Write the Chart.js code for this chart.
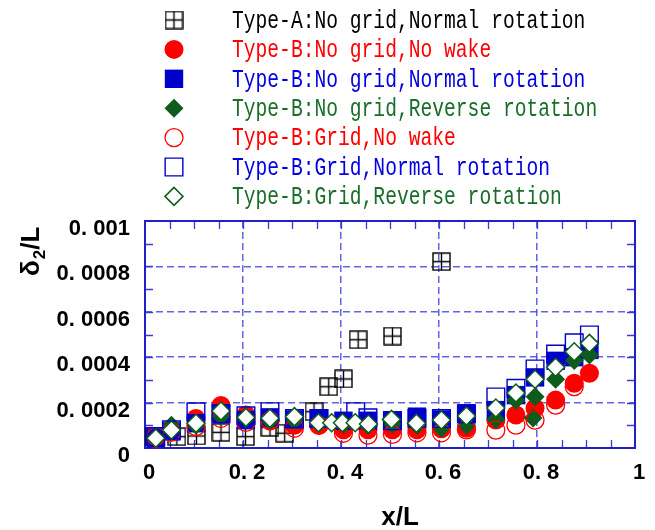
<!DOCTYPE html>
<html>
<head>
<meta charset="utf-8">
<script src="https://cdn.jsdelivr.net/npm/chart.js@4/dist/chart.umd.min.js"></script>
<style>
  html, body { margin: 0; padding: 0; background: #fff; }
  canvas { display: block; }
</style>
</head>
<body>
<canvas id="chart" width="655" height="530"></canvas>
<script>
// --- Data ---

const xTickLabels = ["0", "0. 2", "0. 4", "0. 6", "0. 8", "1"];
const yTickLabels = ["0", "0. 0002", "0. 0004", "0. 0006", "0. 0008", "0. 001"];

const seriesLabels = [
    "Type-A:No grid,Normal rotation",
    "Type-B:No grid,No wake",
    "Type-B:No grid,Normal rotation",
    "Type-B:No grid,Reverse rotation",
    "Type-B:Grid,No wake",
    "Type-B:Grid,Normal rotation",
    "Type-B:Grid,Reverse rotation",
];

// Type-A, no grid, normal rotation
const typeA_x = [0.02, 0.065, 0.105, 0.155, 0.205, 0.255, 0.285, 0.345, 0.375, 0.405, 0.435, 0.505, 0.605];
const typeA_y = [0.000050, 0.000050, 0.000053, 0.000069, 0.000050, 0.000091, 0.000065, 0.000160, 0.000270, 0.000304, 0.000477, 0.000493, 0.000821];

// Type-B, no grid, no wake
const noGridNoWake_x = [0.022, 0.054, 0.104, 0.155, 0.206, 0.255, 0.305, 0.355, 0.405, 0.455, 0.505, 0.555, 0.605, 0.656, 0.716, 0.757, 0.796, 0.838, 0.876, 0.907];
const noGridNoWake_y = [0.000040, 0.000080, 0.000130, 0.000187, 0.000145, 0.000120, 0.000100, 0.000100, 0.000080, 0.000080, 0.000080, 0.000080, 0.000085, 0.000087, 0.000123, 0.000145, 0.000175, 0.000211, 0.000285, 0.000329];

// Type-B, no grid, normal rotation
const noGridNormal_x = [0.022, 0.054, 0.104, 0.155, 0.206, 0.255, 0.305, 0.355, 0.405, 0.455, 0.505, 0.555, 0.605, 0.656, 0.716, 0.757, 0.796, 0.838, 0.876, 0.907];
const noGridNormal_y = [0.000043, 0.000073, 0.000109, 0.000153, 0.000123, 0.000135, 0.000126, 0.000131, 0.000120, 0.000120, 0.000122, 0.000138, 0.000126, 0.000153, 0.000167, 0.000233, 0.000311, 0.000384, 0.000400, 0.000432];

// Type-B, no grid, reverse rotation
const noGridReverse_x = [0.022, 0.054, 0.104, 0.155, 0.206, 0.255, 0.305, 0.355, 0.405, 0.455, 0.505, 0.555, 0.605, 0.656, 0.716, 0.757, 0.792, 0.796, 0.838, 0.876, 0.907];
const noGridReverse_y = [0.000042, 0.000100, 0.000100, 0.000140, 0.000130, 0.000120, 0.000120, 0.000110, 0.000105, 0.000100, 0.000105, 0.000100, 0.000087, 0.000100, 0.000126, 0.000210, 0.000132, 0.000226, 0.000303, 0.000385, 0.000410];

// Type-B, grid, no wake
const gridNoWake_x = [0.022, 0.054, 0.104, 0.155, 0.206, 0.255, 0.305, 0.355, 0.405, 0.455, 0.505, 0.555, 0.605, 0.656, 0.716, 0.757, 0.796, 0.838, 0.876];
const gridNoWake_y = [0.000050, 0.000070, 0.000094, 0.000130, 0.000113, 0.000120, 0.000087, 0.000100, 0.000065, 0.000057, 0.000060, 0.000067, 0.000067, 0.000080, 0.000079, 0.000101, 0.000123, 0.000189, 0.000270];

// Type-B, grid, normal rotation
const gridNormal_x = [0.022, 0.054, 0.104, 0.155, 0.206, 0.255, 0.305, 0.355, 0.430, 0.455, 0.505, 0.555, 0.605, 0.656, 0.716, 0.757, 0.796, 0.838, 0.876, 0.907];
const gridNormal_y = [0.000050, 0.000080, 0.000159, 0.000150, 0.000142, 0.000160, 0.000130, 0.000130, 0.000160, 0.000133, 0.000120, 0.000130, 0.000130, 0.000150, 0.000225, 0.000263, 0.000348, 0.000414, 0.000463, 0.000498];

// Type-B, grid, reverse rotation
const gridReverse_x = [0.022, 0.054, 0.104, 0.155, 0.206, 0.255, 0.305, 0.354, 0.381, 0.403, 0.429, 0.456, 0.503, 0.554, 0.605, 0.656, 0.716, 0.757, 0.796, 0.838, 0.876, 0.907];
const gridReverse_y = [0.000043, 0.000079, 0.000109, 0.000163, 0.000135, 0.000131, 0.000138, 0.000111, 0.000111, 0.000111, 0.000111, 0.000106, 0.000126, 0.000109, 0.000123, 0.000141, 0.000176, 0.000242, 0.000303, 0.000356, 0.000424, 0.000461];

// minor tick values drawn inward on the frame
const xMinorTicks = [0.05, 0.1, 0.15, 0.2, 0.25, 0.3, 0.35, 0.4, 0.45, 0.5, 0.55, 0.6, 0.65, 0.7, 0.75, 0.8, 0.85, 0.9, 0.95];
const yMinorTicks = [0.0001, 0.0002, 0.0003, 0.0004, 0.0005, 0.0006, 0.0007, 0.0008, 0.0009];


// --- Styles ---

const RED = "#ff0000";
const BLUE = "#0000cc";
const GREEN = "#0d5c1c";
const TEXT_COLORS = ["#000000", "#ff0000", "#0000e0", "#1a6e2a", "#ff0000", "#0000e0", "#1a6e2a"];
const FRAME_COLOR = "#1f1fcc";
const TICK_COLOR = "#3a3ad8";
const GRID_COLOR = "rgba(40, 40, 215, 0.72)";
const TICK_FONT = { family: "'Liberation Sans', Arial, sans-serif", weight: "bold", size: 22 };

// Type-A marker: square split into four
function gridSquareMarker() {
    const c = document.createElement("canvas");
    c.width = 19;
    c.height = 19;
    const g = c.getContext("2d");
    g.strokeStyle = "#000";
    g.lineWidth = 1.4;
    g.strokeRect(1, 1, 17, 17);
    g.beginPath();
    g.moveTo(9.5, 1); g.lineTo(9.5, 18);
    g.moveTo(1, 9.5); g.lineTo(18, 9.5);
    g.stroke();
    return c;
}

function points(xs, ys) {
    return xs.map((x, i) => ({ x, y: ys[i] }));
}

function series(i, xs, ys, style) {
    return Object.assign({
        label: seriesLabels[i],
        data: points(xs, ys),
        order: 7 - i,   // first series at the bottom, last on top
        clip: false,
    }, style);
}

const datasets = [
    series(0, typeA_x, typeA_y, {
        pointStyle: gridSquareMarker(), pointRadius: 9.5,
        backgroundColor: "rgba(0,0,0,0)", borderColor: "#000", borderWidth: 1.4,
    }),
    series(1, noGridNoWake_x, noGridNoWake_y, {
        pointStyle: "circle", pointRadius: 9.5,
        backgroundColor: RED, borderColor: RED, borderWidth: 0,
    }),
    series(2, noGridNormal_x, noGridNormal_y, {
        pointStyle: "rect", pointRadius: 13,
        backgroundColor: BLUE, borderColor: BLUE, borderWidth: 0,
    }),
    series(3, noGridReverse_x, noGridReverse_y, {
        pointStyle: "rectRot", pointRadius: 9.5,
        backgroundColor: GREEN, borderColor: GREEN, borderWidth: 0,
    }),
    series(4, gridNoWake_x, gridNoWake_y, {
        pointStyle: "circle", pointRadius: 9,
        backgroundColor: "rgba(0,0,0,0)", borderColor: RED, borderWidth: 1.3,
    }),
    series(5, gridNormal_x, gridNormal_y, {
        pointStyle: "rect", pointRadius: 12.5,
        backgroundColor: "rgba(0,0,0,0)", borderColor: BLUE, borderWidth: 1.4,
    }),
    series(6, gridReverse_x, gridReverse_y, {
        pointStyle: "rectRot", pointRadius: 9,
        backgroundColor: "#ffffff", borderColor: GREEN, borderWidth: 1.5,
    }),
];
datasets.forEach(d => { d.pointHoverRadius = d.pointRadius; });


// --- Plugins: frame, inner ticks, legend, axis titles ---

const frameAndTicks = {
    id: "frameAndTicks",
    beforeDatasetsDraw(chart) {
        const { ctx, chartArea: a, scales: { x, y } } = chart;
        ctx.save();
        ctx.strokeStyle = TICK_COLOR;
        ctx.lineWidth = 1.3;
        ctx.beginPath();
        xMinorTicks.forEach(v => {
            const px = Math.round(x.getPixelForValue(v)) + 0.5;
            ctx.moveTo(px, a.bottom); ctx.lineTo(px, a.bottom - 8);
            ctx.moveTo(px, a.top); ctx.lineTo(px, a.top + 8);
        });
        yMinorTicks.forEach(v => {
            const py = Math.round(y.getPixelForValue(v)) + 0.5;
            ctx.moveTo(a.left, py); ctx.lineTo(a.left + 8, py);
            ctx.moveTo(a.right, py); ctx.lineTo(a.right - 8, py);
        });
        ctx.stroke();
        ctx.strokeStyle = FRAME_COLOR;
        ctx.lineWidth = 2;
        ctx.strokeRect(a.left, a.top, a.right - a.left, a.bottom - a.top);
        ctx.restore();
    },
};

const LEGEND_MARK_X = 174;
const LEGEND_TEXT_X = 232;
const LEGEND_TOP = 20;
const LEGEND_ROW = 29.4;

const legendAndTitles = {
    id: "legendAndTitles",
    afterDraw(chart) {
        const ctx = chart.ctx;
        chart.data.datasets.forEach((ds, i) => {
            const y = LEGEND_TOP + i * LEGEND_ROW;
            ctx.save();
            ctx.fillStyle = ds.backgroundColor;
            ctx.strokeStyle = ds.borderColor;
            ctx.lineWidth = ds.borderWidth;
            Chart.helpers.drawPoint(ctx, {
                pointStyle: ds.pointStyle,
                radius: ds.pointRadius,
                borderWidth: ds.borderWidth,
                rotation: 0,
            }, LEGEND_MARK_X, y);
            ctx.restore();

            ctx.save();
            ctx.translate(LEGEND_TEXT_X, y);
            ctx.scale(0.755, 1);
            ctx.font = "26px 'Liberation Mono', 'DejaVu Sans Mono', monospace";
            ctx.fillStyle = TEXT_COLORS[i];
            ctx.textBaseline = "middle";
            ctx.fillText(ds.label, 0, 1);
            ctx.restore();
        });

        // x axis title
        ctx.save();
        ctx.fillStyle = "#000";
        ctx.font = "bold 26px 'Liberation Sans', Arial, sans-serif";
        ctx.textAlign = "center";
        ctx.textBaseline = "alphabetic";
        ctx.fillText("x/L", 400, 525);
        ctx.restore();

        // y axis title, rotated, with subscript
        ctx.save();
        ctx.translate(39, 276);
        ctx.rotate(-Math.PI / 2);
        ctx.fillStyle = "#000";
        ctx.textBaseline = "alphabetic";
        ctx.font = "bold 26px 'Liberation Sans', Arial, sans-serif";
        ctx.fillText("δ", 0, 0);
        let w = ctx.measureText("δ").width;
        ctx.font = "bold 17px 'Liberation Sans', Arial, sans-serif";
        ctx.fillText("2", w + 1, 6);
        w += ctx.measureText("2").width + 1;
        ctx.font = "bold 26px 'Liberation Sans', Arial, sans-serif";
        ctx.fillText("/L", w, 0);
        ctx.restore();
    },
};

function gridColor(c) {
    if (!c.tick) return GRID_COLOR;
    const v = c.tick.value;
    const last = c.scale.max;
    if (Math.abs(v) < 1e-12 || Math.abs(v - last) < 1e-12) return "rgba(0,0,0,0)";
    return GRID_COLOR;
}


// --- Chart ---

new Chart(document.getElementById("chart").getContext("2d"), {
    type: "scatter",
    data: { datasets },
    options: {
        responsive: false,
        animation: false,
        events: [],
        layout: { padding: { top: 221, left: 0, right: 20, bottom: 0 } },
        plugins: {
            legend: { display: false },
            tooltip: { enabled: false },
        },
        scales: {
            x: {
                type: "linear",
                min: 0,
                max: 1,
                ticks: {
                    stepSize: 0.2,
                    autoSkip: false,
                    maxRotation: 0,
                    padding: 12,
                    labelOffset: 4,
                    color: "#000",
                    font: TICK_FONT,
                    callback: (v, i) => xTickLabels[i],
                },
                grid: { color: gridColor, lineWidth: 1.5, drawTicks: false },
                border: { display: false, dash: [7, 4] },
                afterFit: s => { s.height = 82; },
            },
            y: {
                type: "linear",
                min: 0,
                max: 0.001,
                ticks: {
                    stepSize: 0.0002,
                    autoSkip: false,
                    padding: 15,
                    labelOffset: 8,
                    color: "#000",
                    font: TICK_FONT,
                    callback: (v, i) => yTickLabels[i],
                },
                grid: { color: gridColor, lineWidth: 1.5, drawTicks: false },
                border: { display: false, dash: [7, 4] },
                afterFit: s => { s.width = 145; },
            },
        },
    },
    plugins: [frameAndTicks, legendAndTitles],
});
</script>
</body>
</html>
